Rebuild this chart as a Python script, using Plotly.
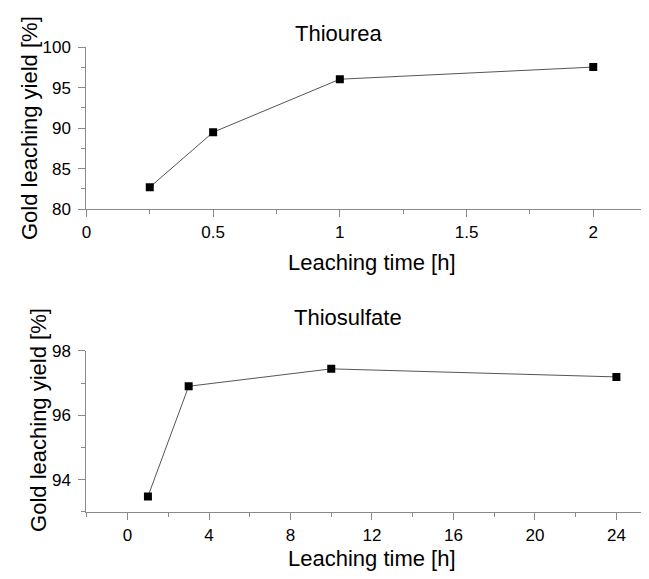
import plotly.graph_objects as go

# Thiourea data
thiourea_time = [0.25, 0.5, 1, 2]
thiourea_yield = [82.7, 89.5, 96.05, 97.55]

# Thiosulfate data
thiosulfate_time = [1, 3, 10, 24]
thiosulfate_yield = [93.48, 96.9, 97.44, 97.19]

# page is offset by the default 8px body margin; size figure to fill the window
OFF = 8
W, H = 649 - OFF, 579 - OFF
FONT = "Liberation Sans, Arial, sans-serif"
AXIS_COLOR = "#8a8a8a"


def px(xp):
    return (xp - OFF) / W


def py(yp):
    return 1 - (yp - OFF) / H


fig = go.Figure()

fig.add_trace(go.Scatter(
    x=thiourea_time, y=thiourea_yield, mode="lines+markers",
    line=dict(color="#555555", width=1),
    marker=dict(symbol="square", size=8, color="black"),
    xaxis="x", yaxis="y", showlegend=False))

fig.add_trace(go.Scatter(
    x=thiosulfate_time, y=thiosulfate_yield, mode="lines+markers",
    line=dict(color="#555555", width=1),
    marker=dict(symbol="square", size=8, color="black"),
    xaxis="x2", yaxis="y2", showlegend=False))

x_dom = [px(82), 1.0]
y1_dom = [py(206.7), py(39.3)]
y2_dom = [py(520), py(353.3)]

common = dict(
    showline=True, linecolor=AXIS_COLOR, linewidth=1.3,
    ticks="outside", ticklen=7, tickwidth=1, tickcolor=AXIS_COLOR,
    showgrid=False, zeroline=False,
    tickfont=dict(family=FONT, size=17, color="black"),
)

fig.update_layout(
    width=W, height=H,
    margin=dict(l=0, r=0, t=0, b=0),
    paper_bgcolor="white", plot_bgcolor="white",
    font=dict(family=FONT, color="black"),
    xaxis=dict(domain=x_dom, anchor="y", range=[0, 2.22],
               tickvals=[0, 0.5, 1, 1.5, 2], ticktext=["0", "0.5", "1", "1.5", "2"],
               minor=dict(ticks="outside", ticklen=4, dtick=0.25, tick0=0, tickcolor=AXIS_COLOR),
               **common),
    yaxis=dict(domain=y1_dom, anchor="x", range=[80, 100], dtick=5, tick0=80,
               ticklabelstandoff=4,
               minor=dict(ticks="outside", ticklen=4, dtick=2.5, tick0=80, tickcolor=AXIS_COLOR),
               **common),
    xaxis2=dict(domain=x_dom, anchor="y2", range=[-2.02, 25.6], dtick=4, tick0=0,
                minor=dict(ticks="outside", ticklen=4, dtick=2, tick0=0, tickcolor=AXIS_COLOR),
                **common),
    yaxis2=dict(domain=y2_dom, anchor="x2", range=[93, 98], dtick=2, tick0=94,
                ticklabelstandoff=4,
                minor=dict(ticks="outside", ticklen=4, dtick=1, tick0=93, tickcolor=AXIS_COLOR),
                **common),
)

TF = dict(family=FONT, size=22, color="black")
annotations = [
    dict(text="Thiourea", x=px(337), y=py(25)),
    dict(text="Leaching time [h]", x=px(370), y=py(261.7)),
    dict(text="Gold leaching yield [%]", x=px(24), y=py(123), textangle=-90),
    dict(text="Thiosulfate", x=px(346), y=py(319)),
    dict(text="Leaching time [h]", x=px(370), y=py(568)),
    dict(text="Gold leaching yield [%]", x=px(33), y=py(425), textangle=-90),
]
for a in annotations:
    fig.add_annotation(xref="paper", yref="paper", xanchor="center", yanchor="middle",
                       showarrow=False, font=TF, **a)

fig.write_html("out.html")
